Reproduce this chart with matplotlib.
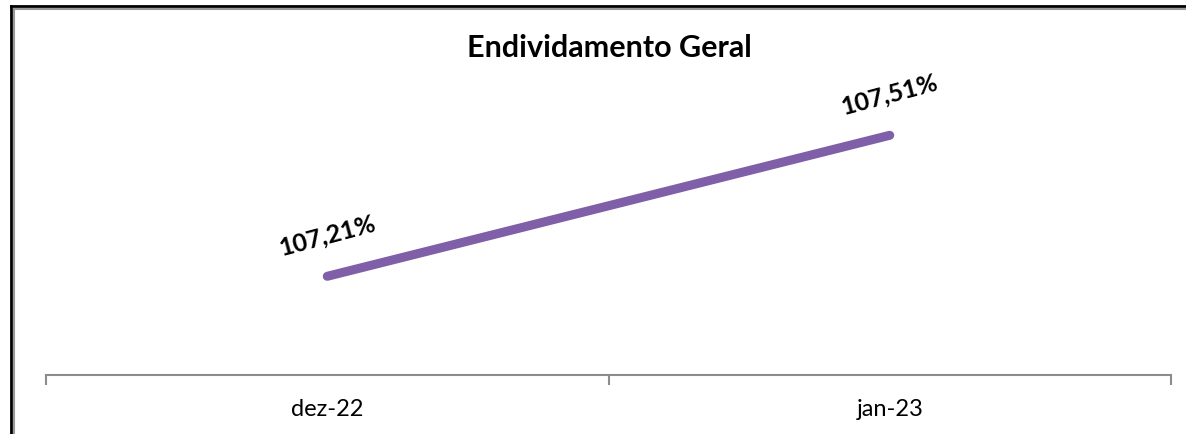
import matplotlib.pyplot as plt
from matplotlib.lines import Line2D

categories = ["dez-22", "jan-23"]
values = [107.21, 107.51]
labels = ["107,21%", "107,51%"]
title = "Endividamento Geral"

W, H = 1186, 435
fig = plt.figure(figsize=(W / 100, H / 100), dpi=100)
fig.patch.set_facecolor("white")

ax = fig.add_axes([46 / W, (H - 376) / H, (1171 - 46) / W, (376 - 94) / H])
x = [0.5, 1.5]
ax.plot(x, values, color="#7F5FA8", linewidth=6.5, solid_capstyle="round")
ax.set_xlim(0, 2)
ax.set_ylim(107.0, 107.6)

for xi, v, lab in zip(x, values, labels):
    ax.annotate(lab, (xi, v), xytext=(0, 30), textcoords="offset points",
                ha="center", va="center", rotation=15, fontsize=18,
                fontweight="bold", family="Lato", color="black")

for s in ["top", "right", "left"]:
    ax.spines[s].set_visible(False)
ax.spines["bottom"].set_color("#8c8c8c")
ax.spines["bottom"].set_linewidth(1.5)
ax.set_yticks([])
ax.set_xticks([0, 1, 2])
ax.set_xticklabels([])
ax.tick_params(axis="x", length=7, width=1.5, color="#8c8c8c")
for xi, c in zip(x, categories):
    ax.text(xi, -0.12, c, transform=ax.get_xaxis_transform(), ha="center",
            va="center", fontsize=17, family="Lato")

fig.text(609 / W, 1 - 48 / H, title, ha="center", va="center",
         fontsize=22, fontweight="bold", family="Lato")

# outer frame (only top and left visible)
fig.add_artist(Line2D([11 / W, 11 / W], [0, 1 - 7 / H], color="black", lw=2, transform=fig.transFigure))
fig.add_artist(Line2D([11 / W, 1], [1 - 7 / H, 1 - 7 / H], color="black", lw=2, transform=fig.transFigure))
fig.add_artist(Line2D([14 / W, 14 / W], [0, 1 - 10 / H], color="#999999", lw=1.5, transform=fig.transFigure))
fig.add_artist(Line2D([14 / W, 1], [1 - 10 / H, 1 - 10 / H], color="#999999", lw=1.5, transform=fig.transFigure))

fig.savefig("out.png", dpi=100)
